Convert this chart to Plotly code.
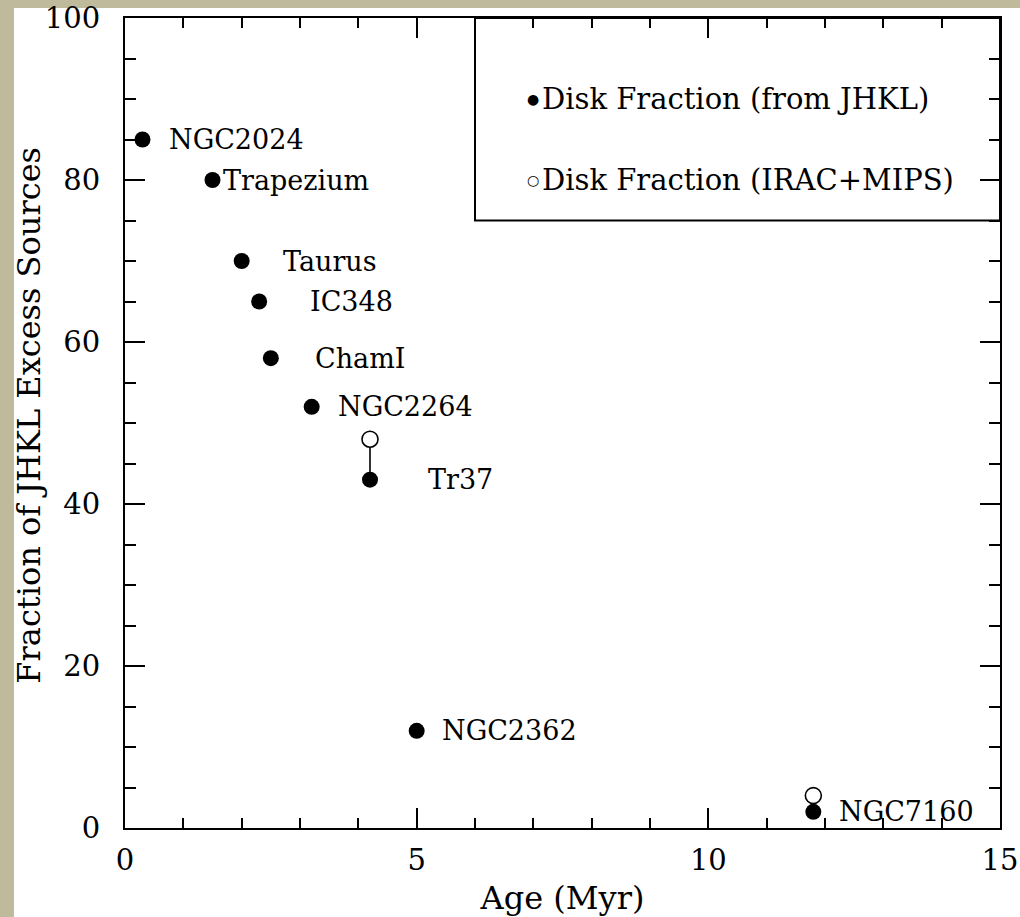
import plotly.graph_objects as go

# Cluster ages (Myr) and disk fractions (%)
clusters = ["NGC2024", "Trapezium", "Taurus", "IC348", "ChamI",
            "NGC2264", "Tr37", "NGC2362", "NGC7160"]
age_myr = [0.3, 1.5, 2.0, 2.3, 2.5, 3.2, 4.2, 5.0, 11.8]
frac_jhkl = [85, 80, 70, 65, 58, 52, 43, 12, 2]
# IRAC+MIPS fractions exist only for two clusters
frac_irac = [None, None, None, None, None, None, 48, None, 4]

# horizontal offset (px) of each cluster name from its point
label_dx = [24, 8, 39, 49, 42, 24, 56, 23, 24]

x_ticks = [0, 5, 10, 15]
y_ticks = [0, 20, 40, 60, 80, 100]

FONT = "DejaVu Serif"
INK = "black"

fig = go.Figure()

# vertical connectors between the two estimates of the same cluster
cx, cy = [], []
for a, f1, f2 in zip(age_myr, frac_jhkl, frac_irac):
    if f2 is not None:
        cx += [a, a, None]
        cy += [f1, f2, None]
fig.add_trace(go.Scatter(x=cx, y=cy, mode="lines",
                         line=dict(color=INK, width=1.6),
                         hoverinfo="skip", showlegend=False))

irac_x = [a for a, f in zip(age_myr, frac_irac) if f is not None]
irac_y = [f for f in frac_irac if f is not None]
fig.add_trace(go.Scatter(x=irac_x, y=irac_y, mode="markers",
                         name="Disk Fraction (IRAC+MIPS)",
                         marker=dict(symbol="circle", size=16, color="white",
                                     line=dict(color=INK, width=1.6)),
                         showlegend=False))

fig.add_trace(go.Scatter(x=age_myr, y=frac_jhkl, mode="markers",
                         name="Disk Fraction (from JHKL)",
                         marker=dict(symbol="circle", size=16, color=INK,
                                     line=dict(width=0)),
                         showlegend=False))

# cluster names
for name, a, f, dx in zip(clusters, age_myr, frac_jhkl, label_dx):
    fig.add_annotation(x=a, y=f, text=name, showarrow=False,
                       xanchor="left", yanchor="middle", xshift=dx,
                       font=dict(family=FONT, size=27, color=INK))

# key box in the upper right corner
fig.add_shape(type="rect", x0=6, x1=15, y0=75, y1=100,
              line=dict(color=INK, width=2), layer="above")
key_items = [("\u25cf", "Disk Fraction (from JHKL)", 90),
             ("\u25cb", "Disk Fraction (IRAC+MIPS)", 80)]
for glyph, txt, ky in key_items:
    fig.add_annotation(x=7.0, y=ky, text=glyph, showarrow=False,
                       xanchor="center", yanchor="middle",
                       font=dict(family="DejaVu Sans", size=14, color=INK))
    fig.add_annotation(x=7.0, y=ky, text=txt, showarrow=False,
                       xanchor="left", yanchor="middle", xshift=7,
                       font=dict(family=FONT, size=29, color=INK))

# y-axis title placed beside the tick labels
fig.add_annotation(xref="paper", yref="paper", x=-0.11, y=0.51,
                   text="Fraction of JHKL Excess Sources", textangle=-90,
                   showarrow=False, xanchor="center", yanchor="middle",
                   font=dict(family=FONT, size=32, color=INK))

# page background: khaki strip on the left and top, white elsewhere
fig.add_shape(type="rect", xref="paper", yref="paper",
              x0=-0.1269, x1=1.2, y0=-0.3, y1=1.0123,
              fillcolor="white", line=dict(width=0), layer="below")

axis_common = dict(
    showgrid=False, zeroline=False, automargin=False,
    showline=True, linecolor=INK, linewidth=2, mirror="ticks",
    ticks="inside", ticklen=20, tickwidth=2, tickcolor=INK,
    tickfont=dict(family=FONT, size=29, color=INK),
)

fig.update_xaxes(range=[0, 15], tickvals=x_ticks,
                 minor=dict(dtick=1, ticks="inside", ticklen=10,
                            tickwidth=2, tickcolor=INK),
                 title=dict(text="Age (Myr)", standoff=18,
                            font=dict(family=FONT, size=32, color=INK)),
                 ticklabelstandoff=5,
                 **axis_common)
fig.update_yaxes(range=[0, 100], tickvals=y_ticks,
                 minor=dict(dtick=5, ticks="inside", ticklen=11,
                            tickwidth=2, tickcolor=INK),
                 ticklabelstandoff=17,
                 **axis_common)

fig.update_layout(
    width=1020, height=917,
    margin=dict(l=125, r=20, t=18, b=89),
    paper_bgcolor="#BFBA9C",
    plot_bgcolor="white",
    showlegend=False,
)

fig.write_html("out.html")
